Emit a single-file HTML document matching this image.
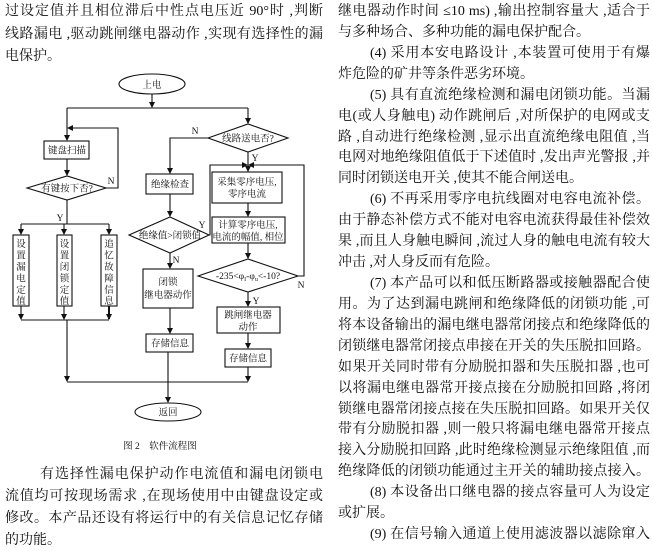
<!DOCTYPE html>
<html><head><meta charset="utf-8"><style>
body{margin:0;width:653px;height:548px;background:#fff;position:relative;overflow:hidden;font-family:"Liberation Serif","Noto Serif CJK SC","Noto Sans CJK SC",serif;color:#111}
.l{position:absolute;font-size:14px;height:20px;line-height:20px;white-space:nowrap;text-align:justify;text-align-last:justify}
svg{position:absolute;left:0;top:0}
svg text{font-family:"Liberation Serif","Noto Serif CJK SC",serif;font-size:9.5px;fill:#111}
</style></head><body>
<div class="l" style="left:5px;top:2px;width:318px">过设定值并且相位滞后中性点电压近 90°时 ,判断</div>
<div class="l" style="left:5px;top:25px;width:318px">线路漏电 ,驱动跳闸继电器动作 ,实现有选择性的漏</div>
<div class="l" style="left:5px;top:47px;text-align-last:auto">电保护。</div>

<div class="l" style="left:40px;top:465px;width:283px">有选择性漏电保护动作电流值和漏电闭锁电</div>
<div class="l" style="left:5px;top:487px;width:318px">流值均可按现场需求 ,在现场使用中由键盘设定或</div>
<div class="l" style="left:5px;top:509px;width:318px">修改。本产品还设有将运行中的有关信息记忆存储</div>
<div class="l" style="left:5px;top:531px;text-align-last:auto">的功能。</div>

<div class="l" style="left:338px;top:2px;width:312px">继电器动作时间 ≤10 ms) ,输出控制容量大 ,适合于</div>
<div class="l" style="left:338px;top:23px;text-align-last:auto">与多种场合、多种功能的漏电保护配合。</div>
<div class="l" style="left:370px;top:44px;width:280px">(4) 采用本安电路设计 ,本装置可使用于有爆</div>
<div class="l" style="left:338px;top:65px;text-align-last:auto">炸危险的矿井等条件恶劣环境。</div>
<div class="l" style="left:370px;top:86px;width:280px">(5) 具有直流绝缘检测和漏电闭锁功能。当漏</div>
<div class="l" style="left:338px;top:107px;width:312px">电(或人身触电) 动作跳闸后 ,对所保护的电网或支</div>
<div class="l" style="left:338px;top:128px;width:312px">路 ,自动进行绝缘检测 ,显示出直流绝缘电阻值 ,当</div>
<div class="l" style="left:338px;top:148px;width:312px">电网对地绝缘阻值低于下述值时 ,发出声光警报 ,并</div>
<div class="l" style="left:338px;top:169px;text-align-last:auto">同时闭锁送电开关 ,使其不能合闸送电。</div>
<div class="l" style="left:370px;top:190px;width:280px">(6) 不再采用零序电抗线圈对电容电流补偿。</div>
<div class="l" style="left:338px;top:211px;width:312px">由于静态补偿方式不能对电容电流获得最佳补偿效</div>
<div class="l" style="left:338px;top:232px;width:312px">果 ,而且人身触电瞬间 ,流过人身的触电电流有较大</div>
<div class="l" style="left:338px;top:253px;text-align-last:auto">冲击 ,对人身反而有危险。</div>
<div class="l" style="left:370px;top:274px;width:280px">(7) 本产品可以和低压断路器或接触器配合使</div>
<div class="l" style="left:338px;top:295px;width:312px">用。为了达到漏电跳闸和绝缘降低的闭锁功能 ,可</div>
<div class="l" style="left:338px;top:316px;width:312px">将本设备输出的漏电继电器常闭接点和绝缘降低的</div>
<div class="l" style="left:338px;top:337px;width:312px">闭锁继电器常闭接点串接在开关的失压脱扣回路。</div>
<div class="l" style="left:338px;top:358px;width:312px">如果开关同时带有分励脱扣器和失压脱扣器 ,也可</div>
<div class="l" style="left:338px;top:379px;width:312px">以将漏电继电器常开接点接在分励脱扣回路 ,将闭</div>
<div class="l" style="left:338px;top:400px;width:312px">锁继电器常闭接点接在失压脱扣回路。如果开关仅</div>
<div class="l" style="left:338px;top:420px;width:312px">带有分励脱扣器 ,则一般只将漏电继电器常开接点</div>
<div class="l" style="left:338px;top:441px;width:312px">接入分励脱扣回路 ,此时绝缘检测显示绝缘阻值 ,而</div>
<div class="l" style="left:338px;top:462px;width:312px">绝缘降低的闭锁功能通过主开关的辅助接点接入。</div>
<div class="l" style="left:370px;top:483px;width:280px">(8) 本设备出口继电器的接点容量可人为设定</div>
<div class="l" style="left:338px;top:504px;text-align-last:auto">或扩展。</div>
<div class="l" style="left:370px;top:525px;width:280px">(9) 在信号输入通道上使用滤波器以滤除窜入</div>

<svg width="653" height="548" viewBox="0 0 653 548">
<defs><marker id="a" markerWidth="6" markerHeight="6" refX="5" refY="3" orient="auto" markerUnits="userSpaceOnUse"><path d="M0,0 L6,3 L0,6 z" fill="#111"/></marker></defs>
<g stroke="#111" stroke-width="1.1" fill="none">
<ellipse cx="152" cy="84" rx="33" ry="10" fill="#fff"/>
<line x1="152" y1="94" x2="152" y2="107" marker-end="url(#a)"/>
<polyline points="67,108 248,108"/>
<line x1="67" y1="108" x2="67" y2="140" marker-end="url(#a)"/>
<line x1="248" y1="108" x2="248" y2="123" marker-end="url(#a)"/>
<rect x="44" y="141" width="45" height="18" fill="#fff"/>
<line x1="67" y1="159" x2="67" y2="175" marker-end="url(#a)"/>
<polygon points="27,188 67,176 106,188 67,200" fill="#fff"/>
<polyline points="106,188 118,188 118,128 68,128" marker-end="url(#a)"/>
<line x1="67" y1="200" x2="67" y2="224"/>
<polyline points="21,224 109,224"/>
<line x1="21" y1="224" x2="21" y2="234" marker-end="url(#a)"/>
<line x1="64" y1="224" x2="64" y2="234" marker-end="url(#a)"/>
<line x1="109" y1="224" x2="109" y2="234" marker-end="url(#a)"/>
<rect x="13" y="235" width="16" height="71" fill="#fff"/>
<rect x="57" y="235" width="15" height="71" fill="#fff"/>
<rect x="101" y="235" width="16" height="71" fill="#fff"/>
<line x1="21" y1="306" x2="21" y2="319" marker-end="url(#a)"/>
<line x1="64" y1="306" x2="64" y2="319" marker-end="url(#a)"/>
<line x1="109" y1="306" x2="109" y2="319" marker-end="url(#a)" stroke-width="2"/>
<polyline points="21,320 109,320"/>
<line x1="67" y1="320" x2="67" y2="381" marker-end="url(#a)"/>
<polyline points="67,382 248,382"/>
<polygon points="208,138 248,124 288,138 248,152" fill="#fff"/>
<polyline points="208,138 170,138 170,173" marker-end="url(#a)"/>
<rect x="146" y="174" width="47" height="20" fill="#fff"/>
<line x1="170" y1="194" x2="170" y2="216" marker-end="url(#a)"/>
<polygon points="129,235 170,217 209,235 170,253" fill="#fff"/>
<polyline points="209,235 210,235 210,165 247,165" marker-end="url(#a)"/>
<line x1="248" y1="152" x2="248" y2="171" marker-end="url(#a)"/>
<polyline points="298,276 304,276 304,165 249,165" marker-end="url(#a)"/>
<line x1="170" y1="253" x2="170" y2="268" marker-end="url(#a)"/>
<rect x="143" y="269" width="50" height="39" fill="#fff"/>
<line x1="170" y1="308" x2="170" y2="333" marker-end="url(#a)"/>
<rect x="146" y="334" width="47" height="18" fill="#fff"/>
<line x1="168" y1="352" x2="168" y2="402" marker-end="url(#a)"/>
<ellipse cx="168" cy="412" rx="33" ry="9" fill="#fff"/>
<rect x="212" y="172" width="70" height="31" fill="#fff"/>
<line x1="248" y1="203" x2="248" y2="216" marker-end="url(#a)"/>
<rect x="212" y="217" width="73" height="26" fill="#fff"/>
<line x1="248" y1="243" x2="248" y2="258" marker-end="url(#a)"/>
<polygon points="198,276 248,259 298,276 248,292" fill="#fff"/>
<line x1="248" y1="292" x2="248" y2="306" marker-end="url(#a)"/>
<rect x="217" y="307" width="63" height="26" fill="#fff"/>
<line x1="248" y1="333" x2="248" y2="348" marker-end="url(#a)"/>
<rect x="225" y="349" width="46" height="18" fill="#fff"/>
<line x1="248" y1="367" x2="248" y2="381" marker-end="url(#a)"/>
</g>
<g text-anchor="middle">
<text x="152" y="88" font-size="10">上电</text>
<text x="67" y="153.5">键盘扫描</text>
<text x="67" y="191.5" font-size="9">有键按下否?</text>
<text x="111" y="184">N</text>
<text x="60" y="221">Y</text>
<text x="248" y="141.5" font-size="9">线路送电否?</text>
<text x="195" y="134">N</text>
<text x="255" y="161">Y</text>
<text x="170" y="187.5">绝缘检查</text>
<text x="170" y="238.5" font-size="8.5">绝缘值&gt;闭锁值</text>
<text x="202" y="228">Y</text>
<text x="176" y="263">N</text>
<text x="168" y="285">闭锁</text>
<text x="168" y="298">继电器动作</text>
<text x="170" y="346.5">存储信息</text>
<text x="168" y="415.5">返回</text>
<text x="247" y="185">采集零序电压,</text>
<text x="247" y="197">零序电流</text>
<text x="248" y="228" font-size="9">计算零序电压,</text>
<text x="248" y="240" font-size="9">电流的幅值, 相位</text>
<text x="248" y="279" font-size="8.5">-235&lt;φ<tspan font-size="6" dy="2">I</tspan><tspan dy="-2">-φ</tspan><tspan font-size="6" dy="2">u</tspan><tspan dy="-2">&lt;-10?</tspan></text>
<text x="301" y="288">N</text>
<text x="256" y="304">Y</text>
<text x="248" y="318">跳闸继电器</text>
<text x="248" y="330">动作</text>
<text x="248" y="361.5">存储信息</text>
<g font-size="9.5">
<text x="21" y="247">设</text><text x="21" y="258.5">置</text><text x="21" y="270">漏</text><text x="21" y="281.5">电</text><text x="21" y="293">定</text><text x="21" y="304">值</text>
<text x="64.5" y="247">设</text><text x="64.5" y="258.5">置</text><text x="64.5" y="270">闭</text><text x="64.5" y="281.5">锁</text><text x="64.5" y="293">定</text><text x="64.5" y="304">值</text>
<text x="109" y="247">追</text><text x="109" y="258.5">忆</text><text x="109" y="270">故</text><text x="109" y="281.5">障</text><text x="109" y="293">信</text><text x="109" y="304">息</text>
</g>
<text x="160" y="449" font-size="11">图 2　软件流程图</text>
</g>
</svg>
</body></html>
